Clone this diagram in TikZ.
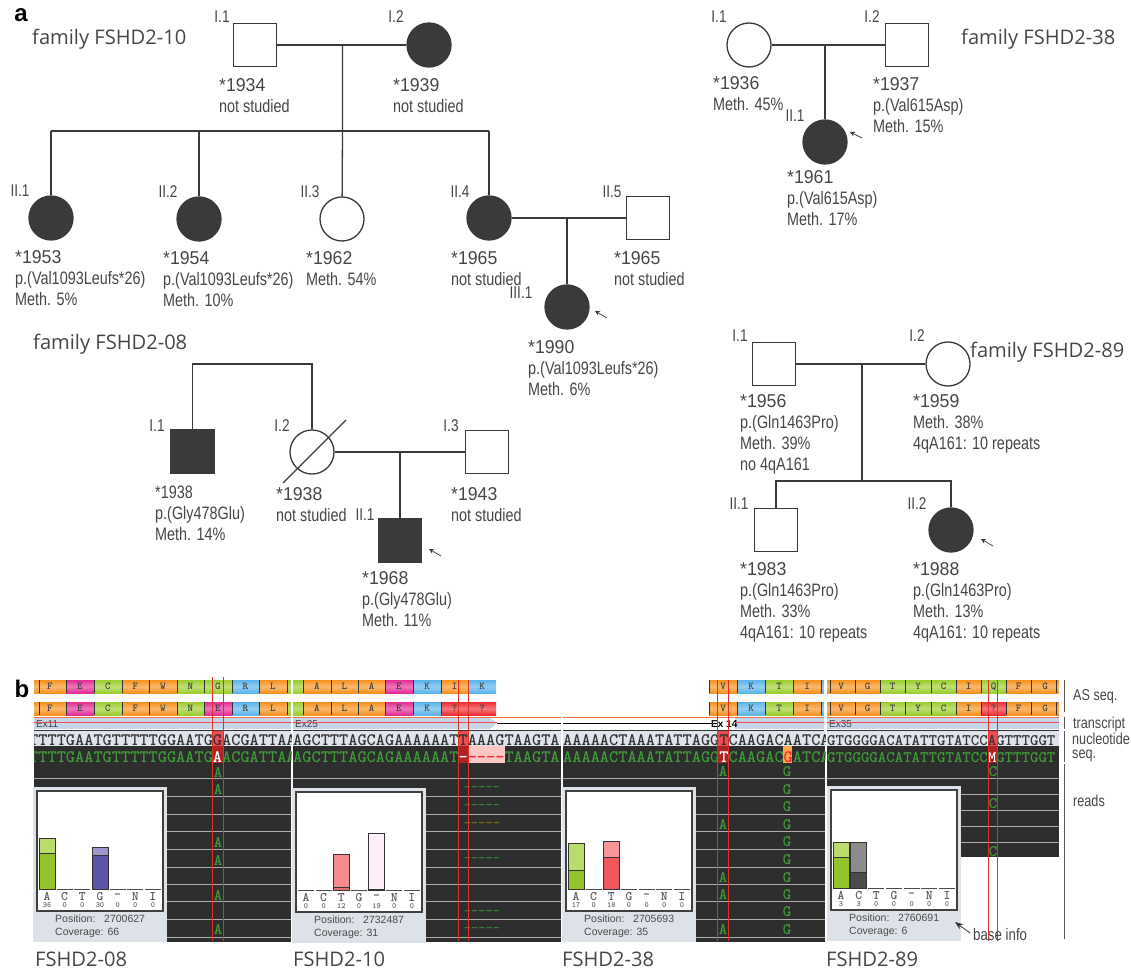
\documentclass[tikz,border=0pt]{standalone}
\usepackage{fontspec}
\setmainfont{Liberation Sans}
\newfontfamily\narrowfont[FakeStretch=0.8]{Liberation Sans}
\newfontfamily\idfont[FakeStretch=0.95]{Liberation Sans}
\newfontfamily\titlefont{Open Sans}
\usetikzlibrary{arrows.meta,positioning,calc}
\definecolor{pedGray}{RGB}{58,58,58}
\definecolor{textGray}{RGB}{70,70,70}
\definecolor{aaOrange}{RGB}{247,145,30}
\definecolor{aaGreen}{RGB}{155,205,45}
\definecolor{aaPink}{RGB}{228,45,150}
\definecolor{aaBlue}{RGB}{90,180,235}
\definecolor{aaRed}{RGB}{238,45,50}
\definecolor{readDark}{RGB}{46,46,46}
\definecolor{readLine}{RGB}{175,172,172}
\definecolor{readGreen}{RGB}{62,155,55}
\definecolor{refBand}{RGB}{222,227,236}
\definecolor{exonBand}{RGB}{198,214,234}
\definecolor{popGray}{RGB}{221,225,232}
\definecolor{markRed}{RGB}{220,50,40}
\definecolor{barPurple}{RGB}{90,85,165}
\definecolor{barLilac}{RGB}{160,150,205}
\tikzset{
  male/.style={rectangle, draw=pedGray, line width=1.3pt, fill=white, minimum size=43pt, inner sep=0pt},
  female/.style={circle, draw=pedGray, line width=1.3pt, fill=white, minimum size=44pt, inner sep=0pt},
  affected/.style={fill=pedGray},
  pline/.style={draw=pedGray, line width=1.3pt},
  parr/.style={-{Stealth[length=5pt,width=5pt]}, line width=0.7pt, color=pedGray},
  gen/.style={font=\narrowfont\fontsize{17}{17}\selectfont, text=textGray, inner sep=0pt},
  info/.style={anchor=north west, inner sep=0pt, align=left, text=textGray,
    font=\narrowfont\fontsize{18}{21}\selectfont},
  famtitle/.style={anchor=base west, inner sep=0pt, text=textGray,
    font=\titlefont\fontsize{20.1}{20}\selectfont},
  panel/.style={font=\bfseries\fontsize{24}{24}\selectfont, inner sep=0pt},
  aacell/.style={top color=#1, bottom color=#1, middle color=#1!65!white, draw=none},
  aaletter/.style={font=\ttfamily\bfseries\fontsize{10.5}{10}\selectfont, text=black!75, inner sep=0pt},
  aatick/.style={draw=black!80, line width=0.9pt},
  seqtext/.style={font=\ttfamily\bfseries\fontsize{#1}{#1}\selectfont, inner sep=0pt, anchor=base west},
  readletter/.style={font=\ttfamily\bfseries\fontsize{16}{16}\selectfont, text=readGreen, inner sep=0pt},
  smallsans/.style={font=\fontsize{10}{10}\selectfont, inner sep=0pt, text=black!75},
  sideline/.style={draw=black!65, line width=0.8pt},
  sidelabel/.style={anchor=base west, inner sep=0pt, text=textGray, font=\narrowfont\fontsize{15.8}{14}\selectfont},
  poptext/.style={anchor=base west, inner sep=0pt, text=black!70, font=\fontsize{10.5}{10.5}\selectfont},
  markline/.style={draw=markRed, line width=0.8pt},
}
\newcommand{\idn}[1]{{\idfont\fontsize{18.6}{21}\selectfont #1}}
% one row of amino acid cells
\newcommand{\aarow}[2]{%
  \foreach \xa/\xb/\cc/\lt in {#2}
    \path[aacell=\cc] (\xa,#1) rectangle node[aaletter] {\lt} (\xb,#1+13);
}
% small window with the base counts, #1 = x, #2 = y, #3 = letter/count list
\newcommand{\basewindow}[5]{%
  \begin{scope}[shift={(#1,#2)}]
    \fill[popGray] (0,0) rectangle (134,155);
    \draw[fill=white, draw=black!75, line width=1.2pt] (4,4) rectangle (130,124);
    \foreach \lt/\cnt [count=\ci from 0] in {#3} {
      \draw[black!70, line width=0.8pt] ({6+17.65*\ci},102) -- ({22+17.65*\ci},102);
      \node[font=\ttfamily\bfseries\fontsize{13}{13}\selectfont, text=black!65, inner sep=0pt] at ({14+17.65*\ci},109.5) {\lt};
      \node[font=\ttfamily\bfseries\fontsize{8}{8}\selectfont, text=black!65, inner sep=0pt] at ({14+17.65*\ci},118) {\cnt};
    }
    \node[poptext] (#5pos) at (22,135) {Position:\ \ \ #4};
    \node[poptext, below=6pt of #5pos.south west, anchor=north west] (#5cov) {Coverage: #5};
    \basebars
  \end{scope}
}
% bar of a window: column, top, split, upper colour, lower colour
\newcommand{\basebar}[5]{%
  \fill[#4] ({6+17.65*#1},#2) rectangle ({22+17.65*#1},#3);
  \fill[#5] ({6+17.65*#1},#3) rectangle ({22+17.65*#1},102);
  \draw[black!80, line width=0.8pt] ({6+17.65*#1},#3) -- ({22+17.65*#1},#3);
  \draw[black!80, line width=0.9pt] ({6+17.65*#1},#2) rectangle ({22+17.65*#1},102);
}
\begin{document}
\begin{tikzpicture}[x=1pt, y=-1pt]
\useasboundingbox (0,0) rectangle (1131,973);

\node[panel] (labelA) at (21,15) {a};
\node[panel] (labelB) at (22,689) {b};

%% FAMILY FSHD2-10
\node[famtitle] (titleTen) at (32,45) {family FSHD2-10};
\node[male] (tenA) at (255,45) {};
\node[female, affected] (tenB) at (429,45) {};
\node[female, affected] (tenC) at (51,218) {};
\node[female, affected] (tenD) at (199,219) {};
\node[female] (tenE) at (342,219) {};
\node[female, affected] (tenF) at (489,218) {};
\node[male] (tenG) at (648,218) {};
\node[female, affected] (tenH) at (567,307) {};
\coordinate (tenMate) at (342.5,45);
\coordinate (tenSib) at (342.5,131);
\coordinate (tenLeft) at (51,131);
\coordinate (tenMid) at (199,131);
\coordinate (tenRight) at (489,131);
\coordinate (tenMateB) at (567,218);
\draw[pline] (tenA) -- (tenB);
\draw[pline] (tenMate) -- (tenSib) -- (tenE);
\draw[pline] (tenLeft) -- (tenRight);
\draw[pline] (tenLeft) -- (tenC);
\draw[pline] (tenMid) -- (tenD);
\draw[pline] (tenRight) -- (tenF);
\draw[pline] (tenF) -- (tenG);
\draw[pline] (tenMateB) -- (tenH);
\node[gen] at (222,17) {I.1};
\node[gen] at (396,17) {I.2};
\node[gen] at (20,191) {II.1};
\node[gen] at (168,192) {II.2};
\node[gen] at (310,192) {II.3};
\node[gen] at (460,192) {II.4};
\node[gen] at (612,192) {II.5};
\node[gen] at (521,293) {III.1};
\node[info] at (219,78) {\idn{*1934}\\not studied};
\node[info] at (393,78) {\idn{*1939}\\not studied};
\node[info] at (15,250) {\idn{*1953}\\p.(Val1093Leufs*26)\\Meth. 5\%};
\node[info] at (163,251) {\idn{*1954}\\p.(Val1093Leufs*26)\\Meth. 10\%};
\node[info] at (306,251) {\idn{*1962}\\Meth. 54\%};
\node[info] at (451,251) {\idn{*1965}\\not studied};
\node[info] at (614,251) {\idn{*1965}\\not studied};
\node[info] at (528,340) {\idn{*1990}\\p.(Val1093Leufs*26)\\Meth. 6\%};
\coordinate (arrTenS) at (607,318);
\coordinate (arrTenE) at (595,311);
\draw[parr] (arrTenS) -- (arrTenE);

%% FAMILY FSHD2-38
\node[famtitle] (titleThree) at (961,45) {family FSHD2-38};
\node[female] (threeA) at (749,45) {};
\node[male] (threeB) at (907,45) {};
\node[female, affected] (threeC) at (825,142) {};
\coordinate (threeMate) at (825,45);
\draw[pline] (threeA) -- (threeB);
\draw[pline] (threeMate) -- (threeC);
\node[gen] at (719,17) {I.1};
\node[gen] at (872,17) {I.2};
\node[gen] at (795,116) {II.1};
\node[info] at (713,76) {\idn{*1936}\\Meth. 45\%};
\node[info] at (873,77) {\idn{*1937}\\p.(Val615Asp)\\Meth. 15\%};
\node[info] at (787,170) {\idn{*1961}\\p.(Val615Asp)\\Meth. 17\%};
\coordinate (arrThreeS) at (862,138);
\coordinate (arrThreeE) at (850,132);
\draw[parr] (arrThreeS) -- (arrThreeE);

%% FAMILY FSHD2-08
\node[famtitle] (titleEight) at (33,349) {family FSHD2-08};
\node[male, affected] (eightA) at (192.5,451.5) {};
\node[female] (eightB) at (312,452) {};
\node[male] (eightC) at (487,452) {};
\node[male, affected] (eightD) at (400,540.5) {};
\coordinate (eightTopL) at (192.5,364);
\coordinate (eightTopR) at (312,364);
\coordinate (eightMate) at (400,452);
\coordinate (eightSlashA) at (283,483);
\coordinate (eightSlashB) at (346,420);
\draw[pline] (eightA) -- (eightTopL) -- (eightTopR) -- (eightB);
\draw[pline] (eightB) -- (eightC);
\draw[pline] (eightMate) -- (eightD);
\draw[pline] (eightSlashA) -- (eightSlashB);
\node[gen] at (157,426) {I.1};
\node[gen] at (282,426) {I.2};
\node[gen] at (451,426) {I.3};
\node[gen] at (365,515) {II.1};
\node[info] at (155,486) {*1938\\p.(Gly478Glu)\\Meth. 14\%};
\node[info] at (276,487) {\idn{*1938}\\not studied};
\node[info] at (451,487) {\idn{*1943}\\not studied};
\node[info] at (362,571) {\idn{*1968}\\p.(Gly478Glu)\\Meth. 11\%};
\coordinate (arrEightS) at (441,556);
\coordinate (arrEightE) at (429,549);
\draw[parr] (arrEightS) -- (arrEightE);

%% FAMILY FSHD2-89
\node[famtitle] (titleNine) at (970,357) {family FSHD2-89};
\node[male] (nineA) at (774,364) {};
\node[female] (nineB) at (948,364) {};
\node[male] (nineC) at (776,530) {};
\node[female, affected] (nineD) at (951,530) {};
\coordinate (nineMate) at (862,364);
\coordinate (nineSib) at (862,481);
\coordinate (nineLeft) at (776,481);
\coordinate (nineRight) at (951,481);
\draw[pline] (nineA) -- (nineB);
\draw[pline] (nineMate) -- (nineSib);
\draw[pline] (nineC) -- (nineLeft) -- (nineRight) -- (nineD);
\node[gen] at (740,336) {I.1};
\node[gen] at (917,336) {I.2};
\node[gen] at (739,504) {II.1};
\node[gen] at (917,504) {II.2};
\node[info] at (740,394) {\idn{*1956}\\p.(Gln1463Pro)\\Meth. 39\%\\no 4qA161};
\node[info] at (913,394) {\idn{*1959}\\Meth. 38\%\\4qA161: 10 repeats};
\node[info] at (740,562) {\idn{*1983}\\p.(Gln1463Pro)\\Meth. 33\%\\4qA161: 10 repeats};
\node[info] at (913,562) {\idn{*1988}\\p.(Gln1463Pro)\\Meth. 13\%\\4qA161: 10 repeats};
\coordinate (arrNineS) at (993,546);
\coordinate (arrNineE) at (981,539);
\draw[parr] (arrNineS) -- (arrNineE);

%% PANEL B - AMINO ACID ROWS
\aarow{680}{34/66/aaOrange/F,66/94/aaPink/E,94/122/aaGreen/C,122/149/aaOrange/F,149/177/aaOrange/W,177/204/aaGreen/N,204/232/aaGreen/G,232/259/aaBlue/R,259/287/aaOrange/L,287/291/aaGreen/}
\aarow{702}{34/66/aaOrange/F,66/94/aaPink/E,94/122/aaGreen/C,122/149/aaOrange/F,149/177/aaOrange/W,177/204/aaGreen/N,204/232/aaPink/E,232/259/aaBlue/R,259/287/aaOrange/L,287/291/aaGreen/}
\aarow{680}{293/303/aaGreen/,303/331/aaOrange/A,331/358/aaOrange/L,358/385/aaOrange/A,385/413/aaPink/E,413/441/aaBlue/K,441/468/aaOrange/I,468/496/aaBlue/K}
\aarow{702}{293/303/aaGreen/,303/331/aaOrange/A,331/358/aaOrange/L,358/385/aaOrange/A,385/413/aaPink/E,413/441/aaBlue/K,441/468/aaRed/?,468/496/aaRed/?}
\aarow{680}{709/737/aaOrange/V,737/765/aaBlue/K,765/793/aaGreen/T,793/821/aaOrange/I,821/824/aaBlue/}
\aarow{702}{709/737/aaOrange/V,737/765/aaBlue/K,765/793/aaGreen/T,793/821/aaOrange/I,821/824/aaBlue/}
\aarow{680}{827/855/aaOrange/V,855/880/aaOrange/G,880/905/aaGreen/T,905/931/aaGreen/Y,931/956/aaGreen/C,956/981/aaOrange/I,981/1006/aaGreen/Q,1006/1031/aaOrange/F,1031/1059/aaOrange/G}
\aarow{702}{827/855/aaOrange/V,855/880/aaOrange/G,880/905/aaGreen/T,905/931/aaGreen/Y,931/956/aaGreen/C,956/981/aaOrange/I,981/1006/aaRed/?,1006/1031/aaOrange/F,1031/1059/aaOrange/G}
\foreach \ty in {680,702} {
  \foreach \tx in {39,66,94,122,149,177,204,232,259,287,303,331,358,385,413,441,468,709,737,765,793,821,830,855,880,905,931,956,981,1006,1031,1056}
    \draw[aatick] (\tx,\ty) -- (\tx,\ty+13);
}

%% TRANSCRIPT
\fill[exonBand] (34,718) rectangle (291,729);
\fill[exonBand] (293,718) -- (490,718) -- (497,723) -- (490,729) -- (293,729) -- cycle;
\fill[exonBand] (735,718) rectangle (824,729);
\fill[exonBand] (827,718) rectangle (1059,729);
\draw[black, line width=0.7pt] (497,723) -- (561,723);
\draw[black, line width=0.7pt] (563,723) -- (712,723);
\foreach \xa/\xb in {34/291,293/561,563/824,827/1059}
  \draw[markRed!60!orange!80, line width=0.8pt] (\xa,717) -- (\xb,717);
\node[smallsans, anchor=base west] (exA) at (36,727) {Ex11};
\node[smallsans, anchor=base west] (exB) at (295,727) {Ex25};
\node[smallsans, anchor=base west, font=\bfseries\fontsize{10}{10}\selectfont, text=black] (exC) at (711,727.5) {Ex 14};
\node[smallsans, anchor=base west] (exD) at (829,727) {Ex35};
\foreach \xa/\xb in {34/291,293/497,735/824,827/1059}
  \draw[aaRed!85!white, line width=1.3pt] (\xa,722.5) -- (\xb,722.5);
\foreach \xa/\xb in {34/291,293/561,563/824,827/1059}
  \draw[black!80, line width=0.7pt] (\xa,730) -- (\xb,730);

%% SEQUENCE AND READ ROWS
\foreach \xa/\xb/\yb in {34/291/942,293/561/942,563/825/942,827/1059/857} {
  \fill[refBand] (\xa,730.5) rectangle (\xb,746);
  \fill[readDark] (\xa,746) rectangle (\xb,\yb);
}
\foreach \xa/\xb in {34/291,293/561,563/825}
  \foreach \ry in {778,796,814,831,849,867,884,901,919,937}
    \draw[readLine, line width=0.8pt] (\xa,\ry) -- (\xb,\ry);
\foreach \ry in {778,794,810,826,842}
  \draw[readLine, line width=0.8pt] (827,\ry) -- (1059,\ry);

% highlighted bases
\fill[aaRed!85!white] (212,730.5) rectangle (223,746);
\fill[aaRed!75!black] (212,746) rectangle (223,763);
\fill[aaRed!85!white] (458,730.5) rectangle (468,746);
\fill[aaRed!75!black] (458,746) rectangle (468,763);
\fill[pink!90!white] (468,746) rectangle (505,763);
\fill[aaRed!85!white] (717,730.5) rectangle (728,746);
\fill[aaRed!75!black] (717,746) rectangle (728,763);
\fill[orange!70!white] (783,746) rectangle (792,763);
\fill[aaRed!85!white] (988,730.5) rectangle (997,746);
\fill[aaRed!75!black] (988,746) rectangle (997,763);

\begin{scope}
  \clip (34,730) rectangle (291,765);
  \node[seqtext=17.5, text=black!80] (seqA) at (29,745) {TTTTGAATGTTTTTGGAATGGACGATTAA};
  \node[seqtext=17.5, text=readGreen] (seqAg) at (29,762) {TTTTGAATGTTTTTGGAATG\textcolor{white}{A}ACGATTAA};
\end{scope}
\begin{scope}
  \clip (293,730) rectangle (561,765);
  \node[seqtext=17.5, text=black!80] (seqB) at (293,745) {AGCTTTAGCAGAAAAAATTAAAGTAAGTA};
  \node[seqtext=17.5, text=readGreen] (seqBg) at (293,762) {AGCTTTAGCAGAAAAAAT\textcolor{white}{-}\textcolor{aaRed}{----}TAAGTA};
\end{scope}
\begin{scope}
  \clip (563,730) rectangle (825,765);
  \node[seqtext=17.5, text=black!80] (seqC) at (563,745) {AAAAACTAAATATTAGGTCAAGACAATCA};
  \node[seqtext=17.5, text=readGreen] (seqCg) at (563,762) {AAAAACTAAATATTAGG\textcolor{white}{T}CAAGAC\textcolor{aaRed}{G}ATCA};
\end{scope}
\begin{scope}
  \clip (827,730) rectangle (1059,765);
  \node[seqtext=16.1, text=black!80] (seqD) at (827,745) {GTGGGGACATATTGTATCCAGTTTGGT};
  \node[seqtext=16.1, text=readGreen] (seqDg) at (827,762) {GTGGGGACATATTGTATCC\textcolor{white}{M}GTTTGGT};
\end{scope}

% read letters
\foreach \ry in {773,790,843,861,896,930}
  \node[readletter] at (218,\ry) {A};
\foreach \ry/\dc in {789/readGreen,807/readGreen,825/olive,860/readGreen,913/readGreen,930/readGreen}
  \node[readletter, text=\dc, font=\ttfamily\fontsize{14}{14}\selectfont] at (482,\ry) {-----};
\foreach \ry in {772,825,878,895,930}
  \node[readletter] at (723,\ry) {A};
\foreach \ry in {772,790,807,825,842,860,878,895,912,930}
  \node[readletter] at (787,\ry) {G};
\foreach \ry in {772,804,852}
  \node[readletter] at (993,\ry) {C};

%% BASE WINDOWS
\newcommand{\basebars}{\basebar{0}{51}{66}{aaGreen!70!white}{aaGreen!95!black}\basebar{3}{60}{68}{barLilac}{barPurple}}
\basewindow{33}{787}{A/36,C/0,T/0,G/30,-/0,N/0,I/0}{2700627}{66}
\renewcommand{\basebars}{\basebar{2}{66}{99}{aaRed!55!white}{aaRed!70!white}\basebar{4}{45}{101}{aaPink!8!white}{aaPink!8!white}}
\basewindow{292}{788}{A/0,C/0,T/12,G/0,-/19,N/0,I/0}{2732487}{31}
\renewcommand{\basebars}{\basebar{0}{56}{83}{aaGreen!70!white}{aaGreen!95!black}\basebar{2}{54}{70}{aaRed!50!white}{aaRed!80!white}}
\basewindow{562}{787}{A/17,C/0,T/18,G/0,-/0,N/0,I/0}{2705693}{35}
\renewcommand{\basebars}{\basebar{0}{56}{71}{aaGreen!70!white}{aaGreen!95!black}\basebar{1}{56}{86}{black!45}{black!70}}
\basewindow{827}{786}{A/3,C/3,T/0,G/0,-/0,N/0,I/0}{2760691}{6}

%% RED MARKERS
\foreach \xa/\ya in {212/677,223/677,458/680,468/680,717/680,728/680,988/680,997/680}
  \draw[markline] (\xa,\ya) -- (\xa,941);

%% SIDE LABELS
\coordinate (sideA) at (1064,680);
\coordinate (sideB) at (1064,712);
\coordinate (sideC) at (1064,717);
\coordinate (sideD) at (1064,729);
\coordinate (sideE) at (1064,731);
\coordinate (sideF) at (1064,762);
\coordinate (sideG) at (1064,764);
\coordinate (sideH) at (1064,939);
\draw[sideline] (sideA) -- (sideB);
\draw[sideline] (sideC) -- (sideD);
\draw[sideline] (sideE) -- (sideF);
\draw[sideline] (sideG) -- (sideH);
\node[sidelabel] (sideAS) at (1073,700) {AS seq.};
\node[sidelabel] (sideTr) at (1073,728) {transcript};
\node[sidelabel] (sideNu) at (1072,744) {nucleotide};
\node[sidelabel] (sideSq) at (1072,758) {seq.};
\node[sidelabel] (sideRd) at (1073,806) {reads};
\node[sidelabel, font=\narrowfont\fontsize{16.6}{14}\selectfont] (baseInfo) at (973,940) {base info};
\coordinate (infoArrS) at (970,933);
\coordinate (infoArrE) at (955,922);
\draw[-{Stealth[length=8pt,width=6pt]}, line width=0.8pt, color=black!80] (infoArrS) -- (infoArrE);

%% CAPTIONS
\node[famtitle] (capA) at (35,966) {FSHD2-08};
\node[famtitle] (capB) at (293,966) {FSHD2-10};
\node[famtitle] (capC) at (562,966) {FSHD2-38};
\node[famtitle] (capD) at (826,966) {FSHD2-89};

\end{tikzpicture}
\end{document}
